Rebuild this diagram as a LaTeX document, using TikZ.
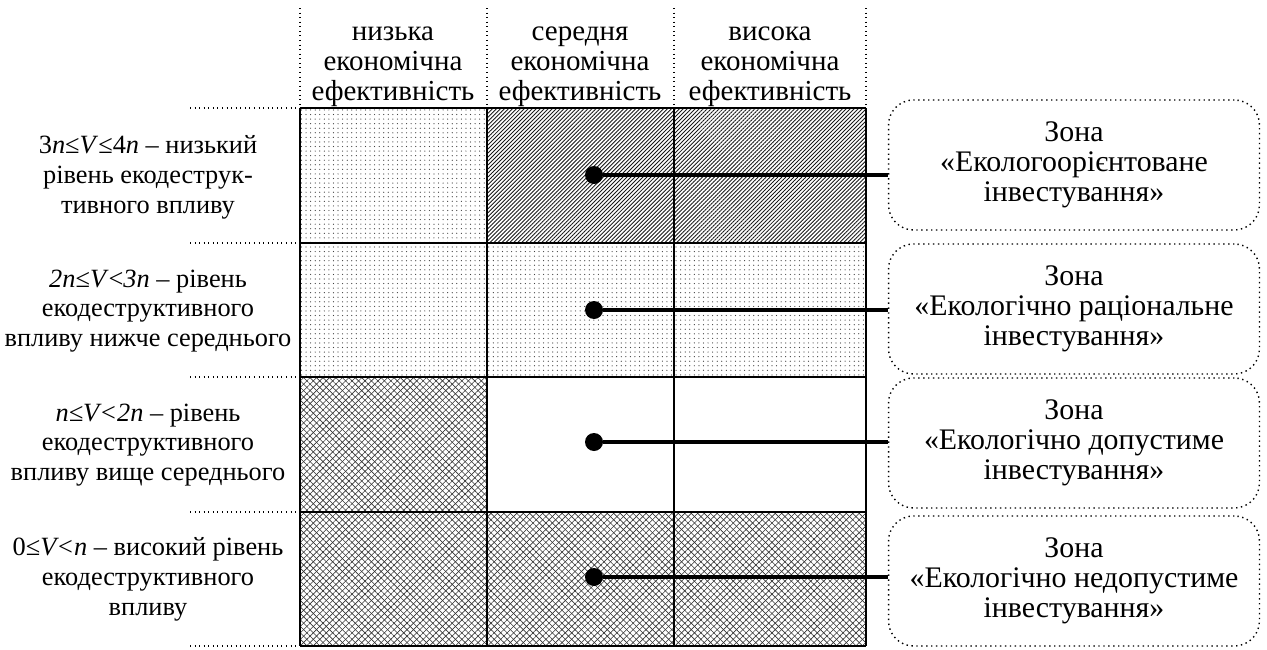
\documentclass[tikz,border=0pt]{standalone}
\usepackage{fontspec}
\setmainfont{Liberation Serif}
\usetikzlibrary{patterns.meta}

\tikzset{
  cell/.style={line width=1pt},
  guide/.style={dotted, line width=0.6pt},
  txt/.style={align=center, inner sep=0pt, font=\fontsize{15}{17}\selectfont},
  head/.style={txt, font=\fontsize{16.5}{17}\selectfont},
  zone/.style={txt, draw, dotted, line width=0.8pt, rounded corners=0.5cm,
    minimum width=7.42cm, minimum height=2.6cm, font=\fontsize{17}{17}\selectfont},
  dotmark/.style={circle, fill, inner sep=0pt, minimum size=0.36cm},
  link/.style={line width=2pt},
  dotsfill/.style={pattern={Dots[distance=2.6pt,radius=0.35pt]}, pattern color=black!75},
  linefill/.style={pattern={Lines[angle=45,distance=1.6pt,line width=0.5pt]}, pattern color=black!90},
  crossfill/.style={pattern={Lines[angle=45,distance=2.6pt,line width=0.35pt]}, pattern color=black!80,
    postaction={pattern={Lines[angle=-45,distance=2.6pt,line width=0.35pt]}, pattern color=black!80}}
}

\begin{document}
\begin{tikzpicture}[x=0.02cm, y=-0.02cm]
    \useasboundingbox (0,0) rectangle (1267,649);

    % cell fills
    \fill[dotsfill] (300,108) rectangle (487,243);
    \fill[linefill] (487,108) rectangle (866,243);
    \fill[dotsfill] (300,243) rectangle (866,377);
    \fill[crossfill] (300,377) rectangle (487,512);
    \fill[crossfill] (300,512) rectangle (866,646);

    % grid and guides
    \foreach \x in {300,487,674,866} {
        \draw[cell] (\x,108) -- (\x,646);
        \draw[guide] (\x,8) -- (\x,108);
    }
    \foreach \y in {108,243,377,512,646} {
        \draw[cell] (300,\y) -- (866,\y);
        \draw[guide] (190,\y) -- (300,\y);
    }

    % column heads
    \node[head] (h1) at (393,67) {низька\\економічна\\ефективність};
    \node[head] (h2) at (580,67) {середня\\економічна\\ефективність};
    \node[head] (h3) at (770,67) {висока\\економічна\\ефективність};

    % row labels
    \node[txt] (l1) at (148,177) {3\textit{n}≤\textit{V}≤4\textit{n} – низький\\рівень екодеструк-\\тивного впливу};
    \node[txt] (l2) at (148,311) {\textit{2n}≤\textit{V}<\textit{3n} – рівень\\екодеструктивного\\впливу нижче середнього};
    \node[txt] (l3) at (148,445) {\textit{n≤V<2n} – рівень\\екодеструктивного\\впливу вище середнього};
    \node[txt] (l4) at (148,579) {0≤\textit{V<n} – високий рівень\\екодеструктивного\\впливу};

    % zones
    \node[zone] (z1) at (1074,165) {Зона\\«Екологоорієнтоване\\інвестування»};
    \node[zone] (z2) at (1074,309) {Зона\\«Екологічно раціональне\\інвестування»};
    \node[zone] (z3) at (1074,443) {Зона\\«Екологічно допустиме\\інвестування»};
    \node[zone] (z4) at (1074,581) {Зона\\«Екологічно недопустиме\\інвестування»};

    \foreach \i/\y in {1/175,2/310,3/442,4/577} {
        \node[dotmark] (d\i) at (594,\y) {};
        \draw[link] (d\i) -- (d\i -| z\i.west);
    }
\end{tikzpicture}
\end{document}
